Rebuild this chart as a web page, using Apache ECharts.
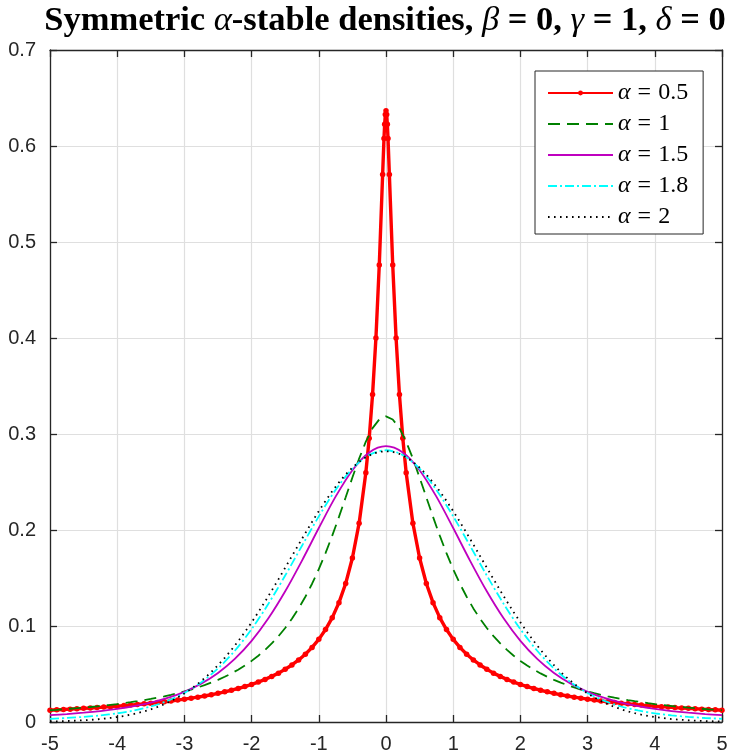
<!DOCTYPE html>
<html>
<head>
<meta charset="utf-8">
<script src="https://cdn.jsdelivr.net/npm/echarts@6/dist/echarts.min.js"></script>
<style>
  html, body { margin: 0; padding: 0; background: #ffffff; }
  #chart { width: 731px; height: 756px; }
</style>
</head>
<body>
<div id="chart"></div>
<script>
// ---- data (densities are symmetric: values listed for x >= 0, mirrored for x < 0) ----
const X_RED = [0,0.01,0.02,0.03,0.05,0.1,0.15,0.2,0.25,0.3,0.4,0.5,0.6,0.7,0.8,0.9,
  1.0,1.1,1.2,1.3,1.4,1.5,1.6,1.7,1.8,1.9,2.0,2.1,2.2,2.3,2.4,2.5,2.6,2.7,2.8,2.9,
  3.0,3.1,3.2,3.3,3.4,3.5,3.6,3.7,3.8,3.9,4.0,4.1,4.2,4.3,4.4,4.5,4.6,4.7,4.8,4.9,5.0];
const Y_ALPHA05 = [0.6366,0.6329,0.6226,0.6079,0.5704,0.4761,0.3999,0.3411,0.2956,0.2597,0.2071,0.1708,0.1443,0.1243,0.1087,0.0963,
  0.0861,0.0777,0.0706,0.0646,0.0594,0.0549,0.0509,0.0475,0.0444,0.0416,0.0391,0.0369,0.0349,0.0331,0.0314,0.0299,0.0284,0.0271,0.0259,0.0248,
  0.0238,0.0228,0.0219,0.0211,0.0203,0.0196,0.0189,0.0182,0.0176,0.0171,0.0165,0.0160,0.0155,0.0150,0.0146,0.0142,0.0138,0.0134,0.0130,0.0127,0.0123];

const X_FINE = [0,0.1,0.2,0.3,0.4,0.5,0.6,0.7,0.8,0.9,1.0,1.1,1.2,1.3,1.4,1.5,1.6,1.7,1.8,1.9,
  2.0,2.1,2.2,2.3,2.4,2.5,2.6,2.7,2.8,2.9,3.0,3.1,3.2,3.3,3.4,3.5,3.6,3.7,3.8,3.9,
  4.0,4.1,4.2,4.3,4.4,4.5,4.6,4.7,4.8,4.9,5.0];
const Y_ALPHA1 = [0.31831,0.31516,0.30607,0.29203,0.27441,0.25465,0.23405,0.21363,0.19409,0.17586,
  0.15915,0.14403,0.13045,0.11833,0.10754,0.09794,0.08941,0.08183,0.07507,0.06905,
  0.06366,0.05884,0.05451,0.05061,0.04709,0.04391,0.04102,0.03840,0.03601,0.03383,
  0.03183,0.03000,0.02832,0.02677,0.02534,0.02402,0.02280,0.02167,0.02062,0.01964,
  0.01872,0.01787,0.01708,0.01633,0.01563,0.01498,0.01436,0.01379,0.01324,0.01273,0.01224];
const Y_ALPHA2 = [0.28210,0.28139,0.27929,0.27582,0.27103,0.26500,0.25782,0.24957,0.24039,0.23038,
  0.21970,0.20846,0.19681,0.18489,0.17282,0.16073,0.14875,0.13697,0.12549,0.11440,
  0.10378,0.09367,0.08412,0.07517,0.06684,0.05913,0.05205,0.04559,0.03974,0.03446,
  0.02973,0.02552,0.02181,0.01854,0.01568,0.01319,0.01105,0.00920,0.00763,0.00630,
  0.00517,0.00422,0.00343,0.00277,0.00223,0.00179,0.00142,0.00113,0.00089,0.00070,0.00054];

const X_COARSE = [0,0.25,0.5,0.75,1.0,1.25,1.5,1.75,2.0,2.25,2.5,2.75,3.0,3.25,3.5,3.75,4.0,4.25,4.5,4.75,5.0];
const Y_ALPHA15 = [0.28736,0.28082,0.26230,0.23473,0.20204,0.16814,0.13613,0.10799,0.08454,0.06576,
  0.05113,0.03997,0.03146,0.02505,0.02018,0.01648,0.01362,0.01141,0.00966,0.00825,0.00711];
const Y_ALPHA18 = [0.28307,0.27813,0.26386,0.24179,0.21419,0.18363,0.15258,0.12311,0.09671,0.07418,
  0.05578,0.04129,0.03024,0.02204,0.01615,0.01200,0.00904,0.00690,0.00534,0.00419,0.00333];

const SERIES_NAMES = ['α = 0.5', 'α = 1', 'α = 1.5', 'α = 1.8', 'α = 2'];
const X_TICKS = [-5,-4,-3,-2,-1,0,1,2,3,4,5];
const Y_TICKS = [0,0.1,0.2,0.3,0.4,0.5,0.6,0.7];

function mirror(xs, ys) {
  const out = [];
  for (let i = xs.length - 1; i >= 1; i--) out.push([-xs[i], ys[i]]);
  for (let i = 0; i < xs.length; i++) out.push([xs[i], ys[i]]);
  return out;
}

const AX = '#262626';
const GRID = '#dfdfdf';
const serif = "'Liberation Serif','Times New Roman',serif";
const sans = "'Liberation Sans',Arial,Helvetica,sans-serif";

const chart = echarts.init(document.getElementById('chart'), null, { renderer: 'canvas' });

const baseX = {
  type: 'value', min: X_TICKS[0], max: X_TICKS[X_TICKS.length - 1], interval: 1,
  axisLine: { show: true, onZero: false, lineStyle: { color: AX, width: 1.3 } },
  axisTick: { show: true, inside: true, length: 7, lineStyle: { color: AX, width: 1.3 } }
};
const baseY = {
  type: 'value', min: Y_TICKS[0], max: Y_TICKS[Y_TICKS.length - 1], interval: 0.1,
  axisLine: { show: true, onZero: false, lineStyle: { color: AX, width: 1.3 } },
  axisTick: { show: true, inside: true, length: 7, lineStyle: { color: AX, width: 1.3 } }
};

const legendFmt = function (name) {
  const rest = name.replace('α = ', '');
  return '{i|α}{e|=}{t|' + rest + '}';
};

const option = {
  animation: false,
  backgroundColor: '#ffffff',
  grid: { left: 50, right: 9, top: 50, bottom: 34, containLabel: false },
  graphic: [{
    type: 'text', x: 385, y: 21, silent: true,
    style: {
      text: '{b|Symmetric }{g|α}{b|-stable densities, }{g|β}{b| = 0, }{g|γ}{b| = 1, }{g|δ}{b| = 0}',
      align: 'center', verticalAlign: 'middle',
      rich: {
        b: { fontFamily: serif, fontWeight: 'bold', fontSize: 34.5, fill: '#000' },
        g: { fontFamily: serif, fontStyle: 'italic', fontWeight: 'normal', fontSize: 34.5, fill: '#000' }
      }
    }
  }],
  xAxis: [
    Object.assign({}, baseX, {
      position: 'bottom',
      axisLabel: { show: true, color: AX, fontSize: 20, fontFamily: sans, margin: 12 },
      splitLine: { show: true, lineStyle: { color: GRID, width: 1.2 } }
    }),
    Object.assign({}, baseX, {
      position: 'top', axisLabel: { show: false }, splitLine: { show: false }
    })
  ],
  yAxis: [
    Object.assign({}, baseY, {
      position: 'left',
      axisLabel: { show: true, color: AX, fontSize: 20, fontFamily: sans, margin: 14,
        formatter: function (v) { return String(Math.round(v * 10) / 10); } },
      splitLine: { show: true, lineStyle: { color: GRID, width: 1.2 } }
    }),
    Object.assign({}, baseY, {
      position: 'right', axisLabel: { show: false }, splitLine: { show: false }
    })
  ],
  legend: {
    orient: 'vertical', left: 535, top: 71,
    backgroundColor: '#ffffff', borderColor: AX, borderWidth: 1, borderRadius: 0,
    padding: [10, 15, 5, 12],
    itemWidth: 65, itemHeight: 6, itemGap: 7,
    selectedMode: false,
    formatter: legendFmt,
    textStyle: {
      color: '#000', fontFamily: serif, fontSize: 24, lineHeight: 20,
      rich: {
        i: { fontFamily: serif, fontStyle: 'italic', fontSize: 24, lineHeight: 20, color: '#000' },
        e: { fontFamily: serif, fontSize: 24, lineHeight: 20, color: '#000', padding: [0, 7, 0, 7] },
        t: { fontFamily: serif, fontSize: 24, lineHeight: 20, color: '#000' }
      }
    },
    data: [
      { name: SERIES_NAMES[0] },
      { name: SERIES_NAMES[1], itemStyle: { opacity: 0 } },
      { name: SERIES_NAMES[2], itemStyle: { opacity: 0 } },
      { name: SERIES_NAMES[3], itemStyle: { opacity: 0 } },
      { name: SERIES_NAMES[4], itemStyle: { opacity: 0 } }
    ]
  },
  series: [
    {
      name: SERIES_NAMES[0], type: 'line', data: mirror(X_RED, Y_ALPHA05),
      symbol: 'circle', symbolSize: 5.5, showSymbol: true, silent: true,
      lineStyle: { color: '#ff0000', width: 3.4 }, itemStyle: { color: '#ff0000' }, z: 2
    },
    {
      name: SERIES_NAMES[1], type: 'line', data: mirror(X_FINE, Y_ALPHA1),
      symbol: 'none', silent: true,
      lineStyle: { color: '#008000', width: 1.8, type: [12, 7] }, itemStyle: { color: '#008000' }, z: 3
    },
    {
      name: SERIES_NAMES[2], type: 'line', data: mirror(X_COARSE, Y_ALPHA15),
      symbol: 'none', smooth: 0.3, silent: true,
      lineStyle: { color: '#bf00bf', width: 1.8 }, itemStyle: { color: '#bf00bf' }, z: 4
    },
    {
      name: SERIES_NAMES[3], type: 'line', data: mirror(X_COARSE, Y_ALPHA18),
      symbol: 'none', smooth: 0.3, silent: true,
      lineStyle: { color: '#00ffff', width: 1.8, type: [9, 3, 2, 3] }, itemStyle: { color: '#00ffff' }, z: 5
    },
    {
      name: SERIES_NAMES[4], type: 'line', data: mirror(X_FINE, Y_ALPHA2),
      symbol: 'none', silent: true,
      lineStyle: { color: '#000000', width: 1.8, type: [1.6, 4.4] }, itemStyle: { color: '#000000' }, z: 6
    }
  ]
};
chart.setOption(option);
</script>
</body>
</html>
